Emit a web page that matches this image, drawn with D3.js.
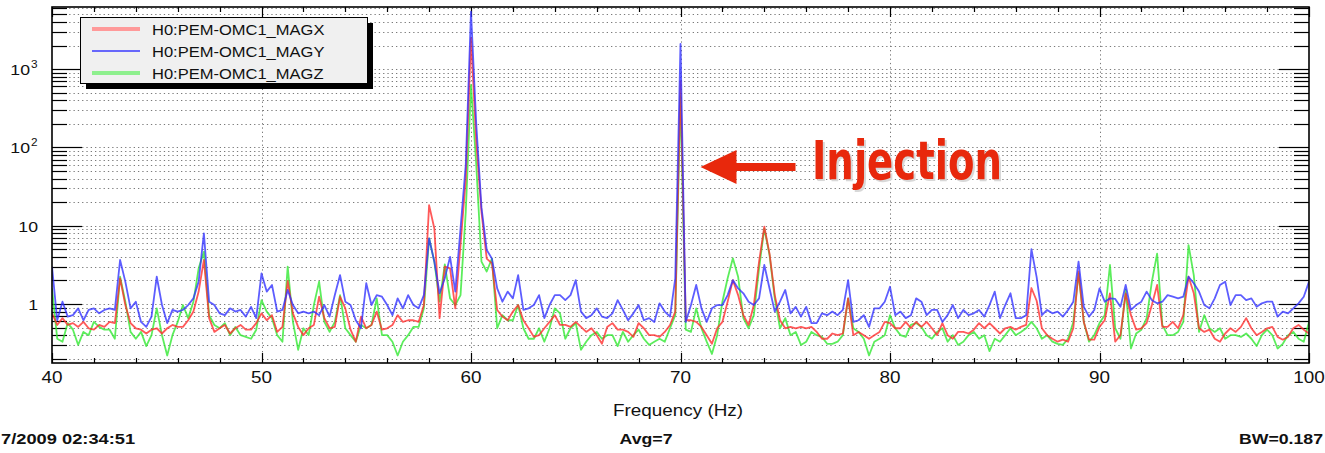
<!DOCTYPE html>
<html><head><meta charset="utf-8">
<script src="https://cdn.jsdelivr.net/npm/d3@7"></script>
<style>body{margin:0;background:#fff}svg{display:block}</style>
</head><body><svg id="c" width="1325" height="453"></svg>
<script>
// ---- data (amplitude spectra, sampled every 0.25 Hz from 40 to 100 Hz) ----
const freqStart = 40, freqStop = 100, freqStep = 0.25;
const magX = [
0.76,0.54,0.66,0.54,0.57,0.51,0.59,0.49,0.47,0.54,
0.51,0.59,0.57,2.13,0.97,0.57,0.49,0.47,0.42,0.47,
0.49,0.42,0.49,0.54,0.51,0.51,0.62,0.80,1.44,3.65,
0.66,0.44,0.49,0.54,0.42,0.49,0.54,0.47,0.47,0.57,
0.76,0.62,0.72,0.44,0.51,1.97,0.76,0.51,0.40,0.49,
0.54,1.24,0.66,0.49,0.51,1.24,0.88,0.47,0.33,0.69,
0.49,0.54,0.80,0.47,0.49,0.54,0.72,0.59,0.62,0.62,
0.59,0.97,18.3,9.2,0.66,3.0,2.85,0.88,5.7,40,
2500,120,15,3.8,3.3,0.84,0.69,0.62,0.80,0.97,
0.62,0.49,0.38,0.40,0.49,0.59,0.72,0.54,0.54,0.51,
0.59,0.51,0.44,0.49,0.40,0.31,0.51,0.57,0.47,0.47,
0.44,0.38,0.57,0.49,0.40,0.40,0.38,0.44,0.54,0.80,
700,0.62,0.62,0.59,0.51,0.40,0.31,0.49,0.59,1.07,
2.02,1.30,0.72,0.54,0.97,3.47,9.7,4.4,1.30,0.62,
0.49,0.51,0.49,0.51,0.49,0.51,0.44,0.36,0.36,0.42,
0.40,0.42,1.18,0.40,0.44,0.40,0.36,0.40,0.44,0.59,
0.57,0.49,0.49,0.59,0.49,0.59,0.51,0.59,0.49,0.40,
0.57,0.40,0.36,0.44,0.44,0.42,0.47,0.57,0.49,0.57,
0.49,0.42,0.49,0.51,0.47,0.51,0.54,1.6,1.1,0.49,
0.40,0.36,0.33,0.35,0.33,0.49,2.6,0.59,0.35,0.35,
0.51,0.62,1.37,0.33,0.40,1.37,0.72,0.47,0.49,0.57,
0.97,1.75,0.51,0.51,0.59,0.49,0.72,2.23,1.37,0.49,
0.44,0.47,0.36,0.33,0.42,0.49,0.44,0.51,0.66,0.49,
0.40,0.44,0.49,0.51,0.38,0.35,0.38,0.49,0.54,0.47,
0.42];
const magY = [
3.0,0.62,1.07,0.69,0.72,0.88,0.62,0.84,0.88,0.76,
0.84,0.88,0.84,3.65,1.93,0.88,1.07,0.59,0.51,0.69,
2.23,0.97,0.57,0.84,0.80,0.84,0.97,1.18,1.93,8.0,
1.07,0.97,0.76,0.72,0.88,0.80,0.84,0.69,0.92,0.66,
2.46,1.44,1.75,0.80,0.84,1.51,0.97,0.76,0.80,0.76,
0.80,0.72,0.97,0.69,1.30,2.34,1.07,0.97,0.62,0.49,
1.84,0.97,1.30,1.24,0.97,0.72,1.18,0.88,1.30,0.97,
0.88,1.30,6.9,3.47,1.37,2.13,4.0,1.44,9.2,60,
5400,200,17,4.9,3.8,1.58,1.07,1.44,1.18,2.34,
0.84,0.88,0.97,1.30,0.66,0.97,1.30,1.30,1.12,1.30,
2.02,0.80,0.66,0.72,0.88,0.69,0.66,0.76,1.12,0.84,
0.62,0.76,0.97,0.62,0.66,0.59,1.02,0.80,0.69,2.13,
2100,0.59,0.97,1.75,0.88,0.59,0.88,0.97,0.97,1.30,
2.02,1.58,1.37,1.07,0.97,1.18,3.15,1.58,0.80,1.07,
1.51,0.76,0.92,0.69,0.92,0.57,0.57,0.76,0.72,0.80,
0.72,0.84,2.02,0.59,0.62,0.72,0.51,0.88,0.88,1.07,
1.66,0.72,0.80,0.66,0.72,1.18,1.07,0.72,0.84,0.84,
0.59,0.72,0.97,0.66,0.84,0.72,0.76,0.84,0.69,0.97,
1.44,0.66,0.97,1.37,0.66,0.66,0.72,5.0,2.2,0.72,
0.84,0.76,0.80,0.69,0.84,1.07,3.47,0.92,0.69,0.84,
1.58,1.07,1.18,1.16,0.92,1.75,0.84,0.97,1.07,1.44,
1.12,1.02,1.07,1.30,1.24,1.18,1.24,2.23,1.84,1.44,
0.97,0.88,1.18,1.75,1.93,0.97,1.30,1.30,1.12,1.18,
0.92,1.02,1.07,1.07,0.69,0.80,0.76,0.88,1.02,1.24,
1.93];
const magZ = [
1.58,0.36,0.33,0.57,0.47,0.30,0.44,0.40,0.59,0.51,
0.47,0.47,0.36,2.23,1.07,0.44,0.36,0.44,0.29,0.40,
0.88,0.40,0.22,0.40,0.59,0.97,0.66,1.07,2.85,4.66,
0.72,0.54,0.49,0.57,0.40,0.51,0.40,0.38,0.36,0.47,
1.12,0.80,0.66,0.40,0.33,3.0,0.59,0.26,0.49,0.40,
0.97,1.93,0.59,0.44,0.59,1.30,0.49,0.40,0.33,0.54,
0.49,0.54,1.18,0.40,0.40,0.33,0.22,0.33,0.40,0.51,
0.51,0.88,6.9,3.47,1.07,3.2,1.18,0.97,1.30,15,
630,60,3.47,2.6,3.8,0.49,0.72,0.62,0.62,0.97,
0.49,0.36,0.36,0.49,0.33,0.49,0.88,0.76,0.36,0.49,
0.57,0.26,0.33,0.40,0.44,0.36,0.40,0.40,0.29,0.44,
0.33,0.40,0.47,0.36,0.30,0.33,0.36,0.33,0.49,0.72,
450,0.47,0.44,0.88,0.49,0.33,0.23,0.40,1.07,2.13,
3.83,2.23,0.66,0.49,0.72,2.85,9.2,4.2,1.18,0.49,
0.66,0.40,0.44,0.30,0.33,0.44,0.40,0.38,0.31,0.31,
0.33,0.40,1.18,0.49,0.44,0.36,0.22,0.33,0.36,0.40,
0.72,0.49,0.40,0.38,0.54,0.57,0.51,0.40,0.36,0.44,
0.49,0.33,0.40,0.30,0.33,0.40,0.44,0.36,0.40,0.25,
0.36,0.33,0.40,0.49,0.40,0.44,0.49,0.59,0.49,0.36,
0.40,0.33,0.31,0.30,0.36,0.59,2.46,0.59,0.33,0.40,
0.57,0.72,3.15,0.49,0.36,1.51,0.27,0.42,0.47,0.66,
1.93,4.4,0.54,0.40,0.40,0.44,0.59,5.66,2.34,0.44,
0.72,0.49,0.44,0.49,0.36,0.40,0.40,0.38,0.42,0.36,
0.29,0.40,0.47,0.40,0.27,0.31,0.40,0.44,0.36,0.33,
0.59];
const seriesNames = ["H0:PEM-OMC1_MAGX", "H0:PEM-OMC1_MAGY", "H0:PEM-OMC1_MAGZ"];
const xTickValues = [40, 50, 60, 70, 80, 90, 100];
const xMinorStep = 2;
const yLabelValues = [1, 10, 100, 1000];
const yDomain = [0.1764, 6210];
const xAxisTitle = "Frequency (Hz)";
const footerLeft = "7/2009 02:34:51";
const footerMid = "Avg=7";
const footerRight = "BW=0.187";
const annotationText = "Injection";
const annotationFreq = 70;
const annotationLevel = 56;

// ---- layout ----
const svg = d3.select("#c");
const L = 52, R = 1309, T = 7, B = 363;
const FONT = "'Liberation Sans', Arial, Helvetica, sans-serif";
const SX = 1.18; // horizontal stretch of the original picture
const x = d3.scaleLinear([freqStart, freqStop], [L, R]);
const y = d3.scaleLog(yDomain, [B, T]);
const freqs = magX.map((_, i) => freqStart + i * freqStep);

svg.append("rect").attr("width", 1325).attr("height", 453).attr("fill", "#fff");
svg.append("defs").append("clipPath").attr("id", "clip")
  .append("rect").attr("x", L).attr("y", T).attr("width", R - L).attr("height", B - T);

// grid
const grid = svg.append("g").attr("stroke", "#7a7a7a").attr("stroke-width", 1)
  .attr("stroke-dasharray", "1.3,3");
y.ticks().forEach(v => {
  grid.append("line").attr("x1", L).attr("x2", R).attr("y1", Math.round(y(v)) + 0.5).attr("y2", Math.round(y(v)) + 0.5);
});
xTickValues.slice(1, -1).forEach(v => {
  grid.append("line").attr("x1", Math.round(x(v)) + 0.5).attr("x2", Math.round(x(v)) + 0.5).attr("y1", T).attr("y2", B);
});

// axes ticks (inside, ROOT style)
const ticks = svg.append("g").attr("stroke", "#000").attr("stroke-width", 1.2);
y.ticks().forEach(v => {
  const major = Math.abs(Math.log10(v) - Math.round(Math.log10(v))) < 1e-9;
  const len = major ? 30 : 15;
  const yy = Math.round(y(v)) + 0.5;
  ticks.append("line").attr("x1", L).attr("x2", L + len).attr("y1", yy).attr("y2", yy);
  ticks.append("line").attr("x1", R).attr("x2", R - len).attr("y1", yy).attr("y2", yy);
});
d3.range(freqStart, freqStop + 0.001, xMinorStep).forEach(v => {
  const major = v % 10 === 0;
  const len = major ? 10 : 5;
  const xx = Math.round(x(v)) + 0.5;
  ticks.append("line").attr("x1", xx).attr("x2", xx).attr("y1", B).attr("y2", B - len);
  ticks.append("line").attr("x1", xx).attr("x2", xx).attr("y1", T).attr("y2", T + len);
});

// series
const line = d3.line().x((d, i) => x(freqs[i])).y(d => y(d));
const plot = svg.append("g").attr("clip-path", "url(#clip)");
[[magZ, "#2ee82e"], [magX, "#ff2a2a"], [magY, "#2f2fff"]].forEach(([arr, col]) => {
  plot.append("path").datum(arr).attr("d", line).attr("fill", "none")
    .attr("stroke", col).attr("stroke-width", 1.8).attr("stroke-opacity", 0.78)
    .attr("stroke-linejoin", "round");
});

// frame
svg.append("rect").attr("x", L).attr("y", T).attr("width", R - L).attr("height", B - T)
  .attr("fill", "none").attr("stroke", "#000").attr("stroke-width", 1.6);

// stretched text helper
function txt(px, py, s, size, anchor, weight, fill) {
  return svg.append("text").attr("transform", `translate(${px},${py}) scale(${SX},1)`)
    .attr("font-family", FONT).attr("font-size", size).attr("font-weight", weight || "normal")
    .attr("text-anchor", anchor || "start").attr("fill", fill || "#111").text(s);
}

// x tick labels
xTickValues.forEach(v => txt(x(v), 383, String(v), 16, "middle"));
// y tick labels
yLabelValues.forEach(v => {
  const e = Math.round(Math.log10(v));
  const yy = y(v) + 6;
  if (e <= 1) {
    txt(38, yy, String(v), 15, "end");
  } else {
    txt(30, yy, "10", 15, "end");
    txt(31, yy - 7, String(e), 10, "start");
  }
});

// axis title and footer
txt(678, 416, xAxisTitle, 16, "middle");
txt(1, 444, footerLeft, 15.5, "start", "bold");
txt(646, 444, footerMid, 15, "middle", "bold");
txt(1323, 444, footerRight, 15, "end", "bold");

// legend
const lg = svg.append("g");
lg.append("rect").attr("x", 86).attr("y", 23).attr("width", 287).attr("height", 66).attr("fill", "#000");
lg.append("rect").attr("x", 80.5).attr("y", 17.5).attr("width", 287).attr("height", 66)
  .attr("fill", "#f0f0f0").attr("stroke", "#000").attr("stroke-width", 1);
const legCols = [["#ff9a9a", 4], ["#3a3aff", 1.5], ["#8ef08e", 4]];
seriesNames.forEach((n, i) => {
  const yy = 29 + i * 22;
  lg.append("line").attr("x1", 92).attr("x2", 140).attr("y1", yy).attr("y2", yy)
    .attr("stroke", legCols[i][0]).attr("stroke-width", legCols[i][1]);
  txt(152, yy + 5.5, n, 14, "start");
});

// annotation
const ann = svg.append("g");
const ay = y(annotationLevel);
const tipX = x(annotationFreq) + 20;
ann.append("path")
  .attr("d", `M${tipX},${ay} L${tipX + 36},${ay - 17} L${tipX + 36},${ay - 4} L${tipX + 95},${ay - 4} L${tipX + 95},${ay + 4} L${tipX + 36},${ay + 4} L${tipX + 36},${ay + 17} Z`)
  .attr("fill", "#e8280c");
ann.append("text").attr("x", 814).attr("y", 181)
  .attr("font-family", "'DejaVu Sans Condensed','DejaVu Sans',sans-serif").attr("font-weight", "bold")
  .attr("font-size", 54).attr("textLength", 190).attr("lengthAdjust", "spacingAndGlyphs")
  .attr("fill", "#d8d8d8").text(annotationText);
ann.append("text").attr("x", 812).attr("y", 179)
  .attr("font-family", "'DejaVu Sans Condensed','DejaVu Sans',sans-serif").attr("font-weight", "bold")
  .attr("font-size", 54).attr("textLength", 190).attr("lengthAdjust", "spacingAndGlyphs")
  .attr("fill", "#e8280c").text(annotationText);
</script>
</body></html>
